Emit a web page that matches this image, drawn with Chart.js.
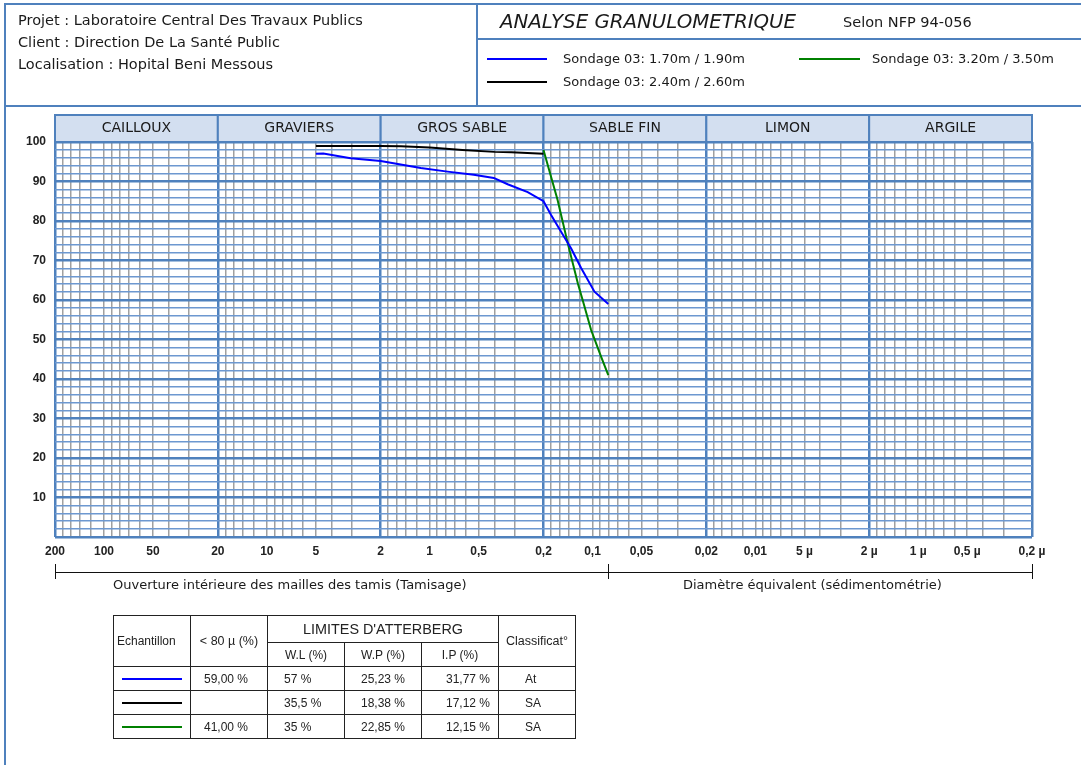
<!DOCTYPE html>
<html lang="fr">
<head>
<meta charset="utf-8">
<title>Analyse granulométrique</title>
<script src="https://cdn.jsdelivr.net/npm/chart.js@4.4.1/dist/chart.umd.min.js"></script>
<style>
  html, body { margin: 0; padding: 0; background: #fff; }
  body { width: 1081px; height: 765px; position: relative; overflow: hidden; font-family: "DejaVu Sans", sans-serif; color: #1a1a1a; }
  #graph { position: absolute; left: 0; top: 0; }
  .rule { position: absolute; background: #4f81bd; }
  .txt { position: absolute; white-space: nowrap; font-size: 13px; line-height: 16px; }
  .big { font-size: 14.5px; }
  .swatch { position: absolute; height: 2px; width: 60px; }
  table.atterberg { position: absolute; left: 113px; top: 615px; border-collapse: collapse; font-family: "Liberation Sans", Arial, sans-serif; font-size: 12px; color: #222; table-layout: fixed; }
  table.atterberg td { border: 1px solid #222; padding: 0; white-space: nowrap; }
  table.atterberg .c { text-align: center; }
  .line { display: block; height: 2px; width: 60px; margin-left: 8px; }
</style>
</head>
<body>
<canvas id="graph" width="1081" height="765"></canvas>

<!-- header frame -->
<div class="rule" style="left:4px;top:3px;width:1077px;height:2px"></div>
<div class="rule" style="left:4px;top:105px;width:1077px;height:2px"></div>
<div class="rule" style="left:4px;top:3px;width:2px;height:762px"></div>
<div class="rule" style="left:476px;top:3px;width:2px;height:103px"></div>
<div class="rule" style="left:476px;top:38px;width:605px;height:2px"></div>

<div class="txt big" style="left:18px;top:12px">Projet : Laboratoire Central Des Travaux Publics</div>
<div class="txt big" style="left:18px;top:34px">Client : Direction De La Santé Public</div>
<div class="txt big" style="left:18px;top:56px">Localisation : Hopital Beni Messous</div>

<div class="txt" style="left:500px;top:10px;font-size:19.8px;line-height:24px;font-style:italic">ANALYSE GRANULOMETRIQUE</div>
<div class="txt big" style="left:843px;top:14px">Selon NFP 94-056</div>

<div class="swatch" style="left:487px;top:58px;background:#0000ff"></div>
<div class="txt" style="left:563px;top:51px" id="lg1"></div>
<div class="swatch" style="left:487px;top:81px;background:#000"></div>
<div class="txt" style="left:563px;top:74px" id="lg2"></div>
<div class="swatch" style="left:799px;top:58px;width:61px;background:#008000"></div>
<div class="txt" style="left:872px;top:51px" id="lg3"></div>

<div class="txt" style="left:113px;top:577px">Ouverture intérieure des mailles des tamis (Tamisage)</div>
<div class="txt" style="left:683px;top:577px">Diamètre équivalent (sédimentométrie)</div>

<table class="atterberg">
  <colgroup>
    <col style="width:77px"><col style="width:77px"><col style="width:77px"><col style="width:77px"><col style="width:77px"><col style="width:77px">
  </colgroup>
  <tr style="height:27px">
    <td rowspan="2" style="padding-left:3px">Echantillon</td>
    <td rowspan="2" class="c" style="font-size:12.5px">&lt; 80 µ (%)</td>
    <td colspan="3" class="c" style="font-size:14.4px;border-bottom:1px solid #222">LIMITES D'ATTERBERG</td>
    <td rowspan="2" class="c" style="font-size:12.5px">Classificat°</td>
  </tr>
  <tr style="height:24px">
    <td class="c">W.L (%)</td><td class="c">W.P (%)</td><td class="c">I.P (%)</td>
  </tr>
  <tbody id="rows"></tbody>
</table>

<script>
// sieve opening (mm) and cumulative passing (%) for each sample
const sizes1 = [5, 4.5, 3.06, 2, 1.135, 0.777, 0.536, 0.404, 0.332, 0.25, 0.2, 0.18, 0.156, 0.1355, 0.1175, 0.0973, 0.08];
const passing1 = [97, 97.1, 95.9, 95.2, 93.4, 92.5, 91.7, 90.9, 89.3, 87.3, 85, 81.6, 77.3, 73.1, 68.1, 62.1, 59];
const sizes2 = [5, 2, 1.5, 1, 0.63, 0.4, 0.315, 0.2];
const passing2 = [99, 99, 98.9, 98.6, 98, 97.5, 97.4, 97];
const sizes3 = [0.2, 0.164, 0.142, 0.123, 0.115, 0.102, 0.0885, 0.08];
const passing3 = [98, 85.4, 74.4, 64.2, 60, 52.4, 45.6, 41];

const sampleNames = ["Sondage 03: 1.70m / 1.90m", "Sondage 03: 2.40m / 2.60m", "Sondage 03: 3.20m / 3.50m"];
const sampleColors = ["#0000ff", "#000000", "#008000"];

// Atterberg limits table
const fines = ["59,00 %", "", "41,00 %"];
const liquidLimit = ["57 %", "35,5 %", "35 %"];
const plasticLimit = ["25,23 %", "18,38 %", "22,85 %"];
const plasticityIndex = ["31,77 %", "17,12 %", "12,15 %"];
const classes = ["At", "SA", "SA"];

// soil classes and their size limits (mm)
const bands = ["CAILLOUX", "GRAVIERS", "GROS SABLE", "SABLE FIN", "LIMON", "ARGILE"];
const bandLimits = [200, 20, 2, 0.2, 0.02, 0.002, 0.0002];
const gridSteps = [2, 1.8, 1.6, 1.4, 1.2, 1, 0.9, 0.8, 0.7, 0.6, 0.5, 0.4, 0.3];
const sieveEnd = 0.08;

const tickValues = [200, 100, 50, 20, 10, 5, 2, 1, 0.5, 0.2, 0.1, 0.05, 0.02, 0.01, 0.005, 0.002, 0.001, 0.0005, 0.0002];
const tickLabels = ["200", "100", "50", "20", "10", "5", "2", "1", "0,5", "0,2", "0,1", "0,05", "0,02", "0,01", "5 µ", "2 µ", "1 µ", "0,5 µ", "0,2 µ"];

const BLUE = "#4f81bd";
const GRID_BLUE = "#6d98d0";
const GRID_GRAY = "#a0a0a0";

document.getElementById("lg1").textContent = sampleNames[0];
document.getElementById("lg2").textContent = sampleNames[1];
document.getElementById("lg3").textContent = sampleNames[2];

// table body rows
const tbody = document.getElementById("rows");
sampleNames.forEach((name, i) => {
  const tr = document.createElement("tr");
  tr.style.height = "24px";
  tr.innerHTML = `
    <td><span class="line" style="background:${sampleColors[i]}"></span></td>
    <td style="padding-left:13px">${fines[i]}</td>
    <td style="padding-left:16px">${liquidLimit[i]}</td>
    <td style="padding-left:16px">${plasticLimit[i]}</td>
    <td style="text-align:right;padding-right:8px">${plasticityIndex[i]}</td>
    <td style="padding-left:26px">${classes[i]}</td>
  `;
  tbody.appendChild(tr);
});

// vertical grid positions: 2, 1.8 ... 0.3 inside each decade
const gridValues = [];
for (let d = 0; d < bands.length; d++) {
  const base = bandLimits[d] / 2;
  gridSteps.forEach(s => gridValues.push(s * base));
}
gridValues.push(bandLimits[bandLimits.length - 1]);

const near = (a, b) => Math.abs(Math.log10(a) - Math.log10(b)) < 1e-6;
const isLimit = v => bandLimits.some(l => near(l, v));

function toPoints(xs, ys) {
  return xs.map((x, i) => ({ x, y: ys[i] }));
}

// class header boxes above the plot
const bandHeader = {
  id: "bandHeader",
  afterDraw(chart) {
    const { ctx, chartArea } = chart;
    const x = chart.scales.x;
    const top = chartArea.top - 27;
    ctx.save();
    ctx.font = "14px 'DejaVu Sans'";
    ctx.textAlign = "center";
    ctx.textBaseline = "middle";
    for (let i = 0; i < bands.length; i++) {
      const x0 = x.getPixelForValue(bandLimits[i]);
      const x1 = x.getPixelForValue(bandLimits[i + 1]);
      ctx.fillStyle = "#d3dff0";
      ctx.fillRect(x0, top, x1 - x0, 27);
      ctx.strokeStyle = BLUE;
      ctx.lineWidth = 2;
      ctx.strokeRect(x0, top, x1 - x0, 27);
      ctx.fillStyle = "#1a1a1a";
      ctx.fillText(bands[i], (x0 + x1) / 2, top + 13.5);
    }
    ctx.restore();
  }
};

// bracket under the axis: sieving vs sedimentometry
const sieveBracket = {
  id: "sieveBracket",
  afterDraw(chart) {
    const { ctx } = chart;
    const x = chart.scales.x;
    const y = 572;
    const marks = [bandLimits[0], sieveEnd, bandLimits[bandLimits.length - 1]].map(v => Math.round(x.getPixelForValue(v)) + 0.5);
    ctx.save();
    ctx.strokeStyle = "#111";
    ctx.lineWidth = 1;
    ctx.beginPath();
    ctx.moveTo(marks[0], y + 0.5);
    ctx.lineTo(marks[2], y + 0.5);
    marks.forEach(m => {
      ctx.moveTo(m, y - 8);
      ctx.lineTo(m, y + 7);
    });
    ctx.stroke();
    ctx.restore();
  }
};

new Chart(document.getElementById("graph"), {
  type: "scatter",
  data: {
    datasets: [
      { label: sampleNames[0], data: toPoints(sizes1, passing1), borderColor: sampleColors[0] },
      { label: sampleNames[1], data: toPoints(sizes2, passing2), borderColor: sampleColors[1] },
      { label: sampleNames[2], data: toPoints(sizes3, passing3), borderColor: sampleColors[2] }
    ].map(ds => Object.assign(ds, { showLine: true, borderWidth: 2, pointRadius: 0, tension: 0, fill: false }))
  },
  options: {
    responsive: false,
    animation: false,
    devicePixelRatio: 1,
    layout: { padding: { left: 0, right: 49, top: 142, bottom: 198 } },
    plugins: { legend: { display: false }, tooltip: { enabled: false } },
    scales: {
      x: {
        type: "logarithmic",
        reverse: true,
        min: 0.0002,
        max: 200,
        afterBuildTicks: s => { s.ticks = gridValues.map(v => ({ value: v })); },
        afterFit: s => { s.height = 30; },
        border: { display: false },
        grid: {
          drawTicks: false,
          color: c => (c.tick && isLimit(c.tick.value) ? BLUE : GRID_GRAY),
          lineWidth: c => (c.tick && isLimit(c.tick.value) ? 2.5 : 1.5)
        },
        ticks: {
          autoSkip: false,
          maxRotation: 0,
          padding: 7,
          color: "#222",
          font: { family: "'Liberation Sans', Arial, sans-serif", size: 12, weight: "bold" },
          callback: v => {
            const i = tickValues.findIndex(t => near(t, v));
            return i >= 0 ? tickLabels[i] : "";
          }
        }
      },
      y: {
        min: 0,
        max: 100,
        afterFit: s => { s.width = 55; },
        border: { display: false },
        grid: {
          drawTicks: false,
          color: c => (c.tick && c.tick.value % 10 === 0 ? BLUE : GRID_BLUE),
          lineWidth: c => (c.tick && c.tick.value % 10 === 0 ? 2.5 : 1.5)
        },
        ticks: {
          stepSize: 2,
          autoSkip: false,
          padding: 9,
          color: "#222",
          font: { family: "'Liberation Sans', Arial, sans-serif", size: 12, weight: "bold" },
          callback: v => (v % 10 === 0 && v > 0 ? v : "")
        }
      }
    }
  },
  plugins: [bandHeader, sieveBracket]
});
</script>
</body>
</html>
